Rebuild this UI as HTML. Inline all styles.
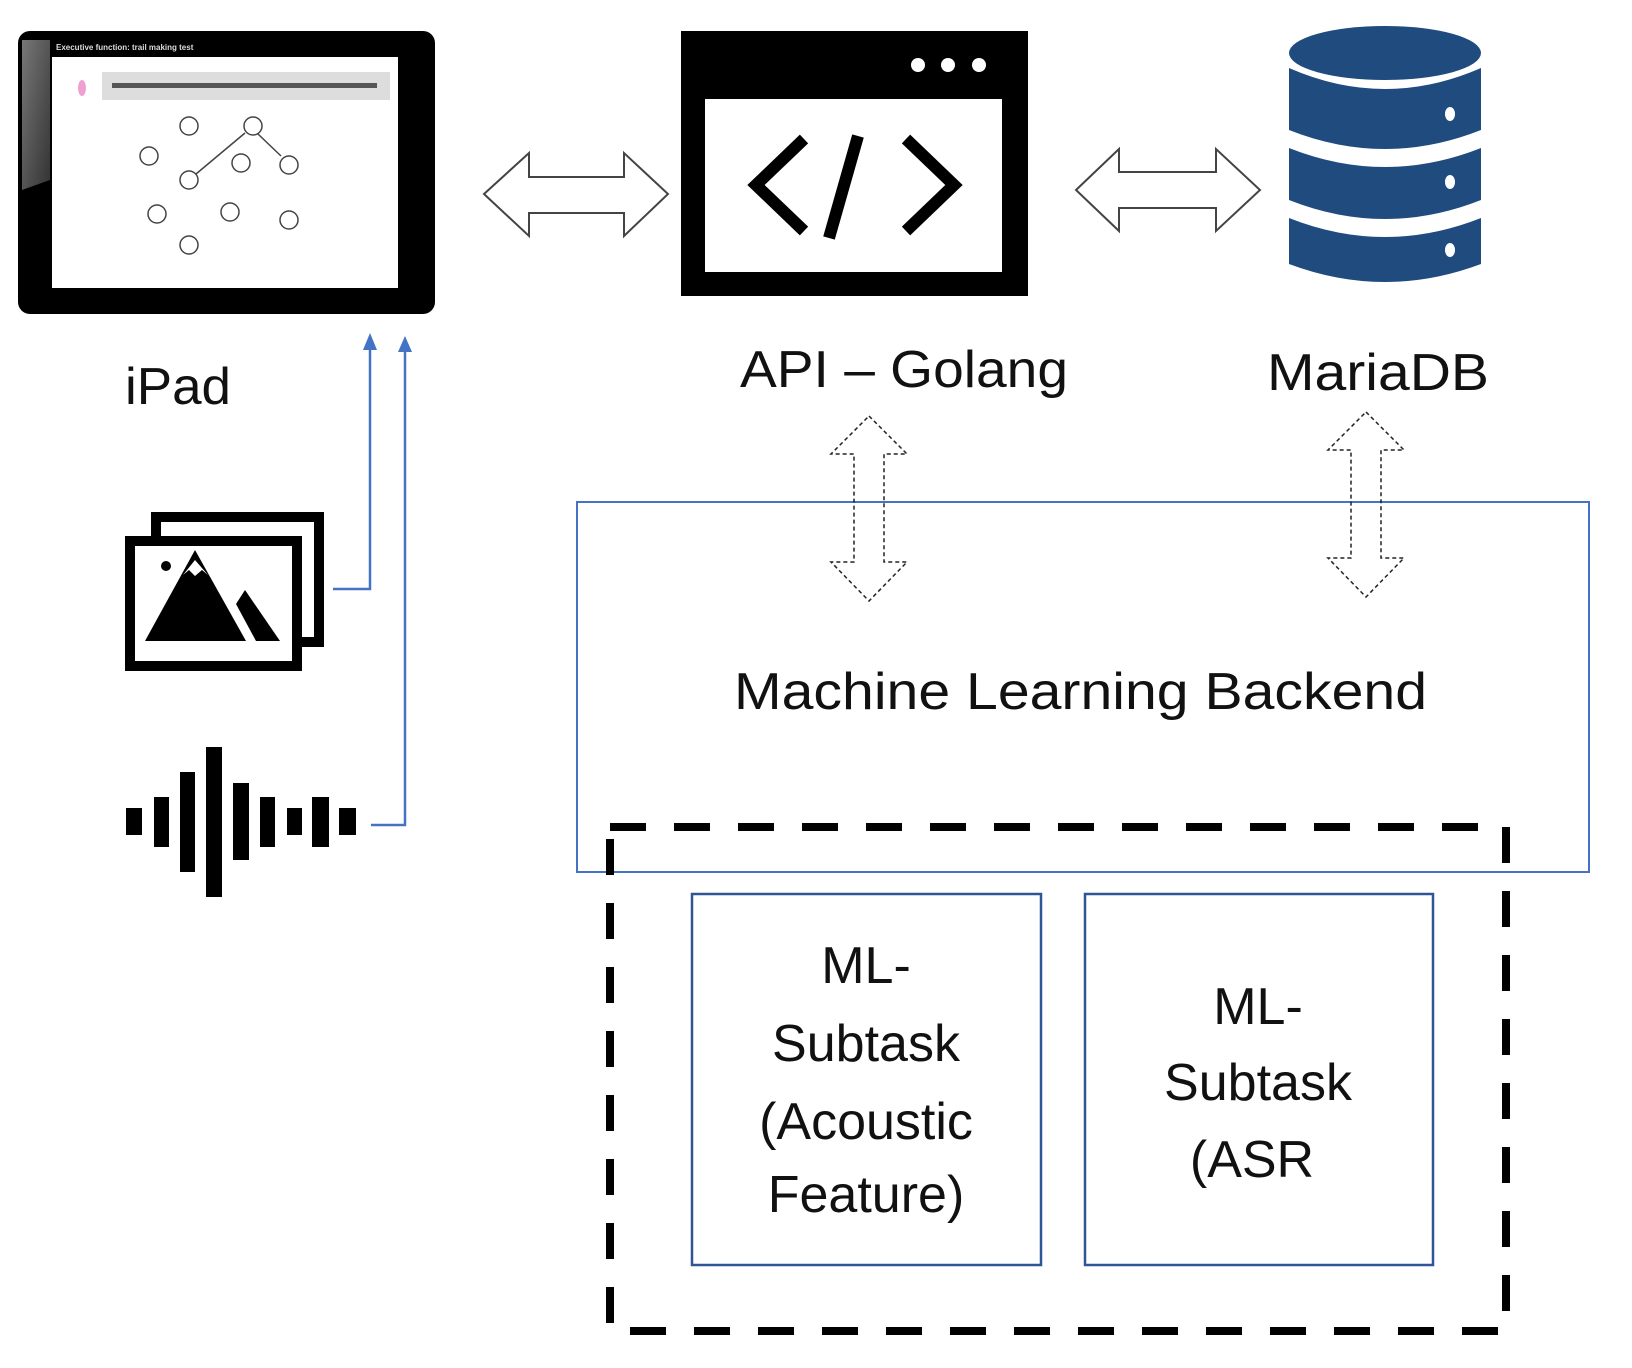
<!DOCTYPE html>
<html><head><meta charset="utf-8"><style>
html,body{margin:0;padding:0;background:#fff;}
svg{display:block;}
text{font-family:"Liberation Sans",sans-serif;fill:#111;}
</style></head><body>
<svg width="1632" height="1368" viewBox="0 0 1632 1368" xmlns="http://www.w3.org/2000/svg">
<defs>
<linearGradient id="glare" x1="0" y1="0" x2="1" y2="1">
<stop offset="0" stop-color="#777"/><stop offset="1" stop-color="#333"/>
</linearGradient>
</defs>
<!-- iPad -->
<rect x="18" y="31" width="417" height="283" rx="12" fill="#000"/>
<path d="M22 40 L50 40 L50 180 L22 190 Z" fill="url(#glare)"/>
<rect x="52" y="57" width="346" height="231" fill="#fff"/>
<text x="56" y="50" font-size="8" style="fill:#ddd" font-weight="bold">Executive function: trail making test</text>
<rect x="102" y="72" width="288" height="28" fill="#ddd"/>
<rect x="112" y="83" width="265" height="5" fill="#555"/>
<ellipse cx="82" cy="88" rx="4" ry="8" fill="#f0a0d0"/>
<g fill="none" stroke="#444" stroke-width="1.5">
<circle cx="189" cy="126" r="9"/><circle cx="253" cy="126" r="9"/><circle cx="149" cy="156" r="9"/>
<circle cx="241" cy="163" r="9"/><circle cx="289" cy="165" r="9"/><circle cx="189" cy="180" r="9"/>
<circle cx="157" cy="214" r="9"/><circle cx="230" cy="212" r="9"/><circle cx="289" cy="220" r="9"/>
<circle cx="189" cy="245" r="9"/>
<line x1="196" y1="174" x2="245" y2="133"/><line x1="258" y1="134" x2="281" y2="156"/>
</g>
<!-- arrow 1 -->
<path d="M484 194 L529 153 L529 177 L624 177 L624 153 L668 194 L624 236 L624 213 L529 213 L529 236 Z" fill="#fff" stroke="#444" stroke-width="2"/>
<!-- API window -->
<rect x="681" y="31" width="347" height="265" fill="#000"/>
<rect x="705" y="99" width="297" height="173" fill="#fff"/>
<circle cx="918" cy="65" r="7" fill="#fff"/><circle cx="948" cy="65" r="7" fill="#fff"/><circle cx="979" cy="65" r="7" fill="#fff"/>
<g stroke="#000" stroke-width="12" fill="none" stroke-linecap="butt">
<polyline points="804,139 756,185 804,231"/>
<line x1="858" y1="136" x2="829" y2="238"/>
<polyline points="906,139 954,185 906,231"/>
</g>
<!-- arrow 2 -->
<path d="M1076 190 L1119 149 L1119 172 L1216 172 L1216 149 L1260 190 L1216 231 L1216 208 L1119 208 L1119 231 Z" fill="#fff" stroke="#444" stroke-width="2"/>
<!-- DB -->
<g fill="#1f4b7e">
<ellipse cx="1385" cy="53" rx="96" ry="27"/>
<path d="M1289 68 Q1385 110 1481 68 L1481 130 Q1385 168 1289 130 Z"/>
<path d="M1289 148 Q1385 186 1481 148 L1481 200 Q1385 238 1289 200 Z"/>
<path d="M1289 218 Q1385 256 1481 218 L1481 264 Q1385 300 1289 264 Z"/>
</g>
<g fill="#fff"><ellipse cx="1450" cy="114" rx="5" ry="7"/><ellipse cx="1450" cy="182" rx="5" ry="7"/><ellipse cx="1450" cy="250" rx="5" ry="7"/></g>
<!-- labels -->
<text x="125" y="404" font-size="52" textLength="106" lengthAdjust="spacingAndGlyphs">iPad</text>
<text x="740" y="387" font-size="52" textLength="328" lengthAdjust="spacingAndGlyphs">API – Golang</text>
<text x="1267" y="390" font-size="52" textLength="222" lengthAdjust="spacingAndGlyphs">MariaDB</text>
<!-- image icon -->
<rect x="156" y="517" width="163" height="125" fill="none" stroke="#000" stroke-width="10"/>
<rect x="130" y="541" width="167" height="125" fill="#fff" stroke="#000" stroke-width="10"/>
<circle cx="166" cy="566" r="5" fill="#000"/>
<path d="M145 641 L195 550 L246 641 Z" fill="#000"/>
<path d="M183 575 L195 560 L208 575 L202 570 L195 576 L189 570 Z" fill="#fff"/>
<path d="M236 604 L245 590 L280 641 L256 641 Z" fill="#000"/>
<!-- audio -->
<g fill="#000">
<rect x="126" y="808" width="16" height="27"/>
<rect x="154" y="797" width="15" height="50"/>
<rect x="180" y="772" width="15" height="100"/>
<rect x="206" y="747" width="16" height="150"/>
<rect x="233" y="783" width="16" height="77"/>
<rect x="260" y="797" width="15" height="50"/>
<rect x="287" y="808" width="15" height="27"/>
<rect x="312" y="797" width="17" height="50"/>
<rect x="339" y="808" width="17" height="27"/>
</g>
<!-- blue connectors -->
<g stroke="#4472c4" stroke-width="2.5" fill="none">
<polyline points="333,589 370,589 370,348"/>
<polyline points="371,825 405,825 405,350"/>
</g>
<path d="M363 350 L370 333 L377 350 Z" fill="#4472c4"/>
<path d="M398 352 L405 336 L412 352 Z" fill="#4472c4"/>
<!-- ML box -->
<rect x="577" y="502" width="1012" height="370" fill="none" stroke="#4472c4" stroke-width="2"/>
<text x="734" y="709" font-size="52" textLength="693" lengthAdjust="spacingAndGlyphs">Machine Learning Backend</text>
<!-- dotted arrows -->
<g fill="none" stroke="#222" stroke-width="1.5" stroke-dasharray="4,3">
<path d="M869 416 L907 454 L884 454 L884 562 L907 562 L869 601 L831 562 L854 562 L854 454 L831 454 Z"/>
<path d="M1366 412 L1404 450 L1381 450 L1381 558 L1404 558 L1366 597 L1328 558 L1351 558 L1351 450 L1328 450 Z"/>
</g>
<!-- dashed box -->
<rect x="610" y="827" width="896" height="504" fill="none" stroke="#000" stroke-width="8" stroke-dasharray="36,28"/>
<!-- subtasks -->
<rect x="692" y="894" width="349" height="371" fill="none" stroke="#2f5597" stroke-width="2.5"/>
<rect x="1085" y="894" width="348" height="371" fill="none" stroke="#2f5597" stroke-width="2.5"/>
<g font-size="52" text-anchor="middle">
<text x="866" y="983">ML-</text>
<text x="866" y="1061">Subtask</text>
<text x="866" y="1139">(Acoustic</text>
<text x="866" y="1212">Feature)</text>
<text x="1258" y="1024">ML-</text>
<text x="1258" y="1100">Subtask</text>
<text x="1252" y="1177">(ASR</text>
</g>
</svg>
</body></html>
